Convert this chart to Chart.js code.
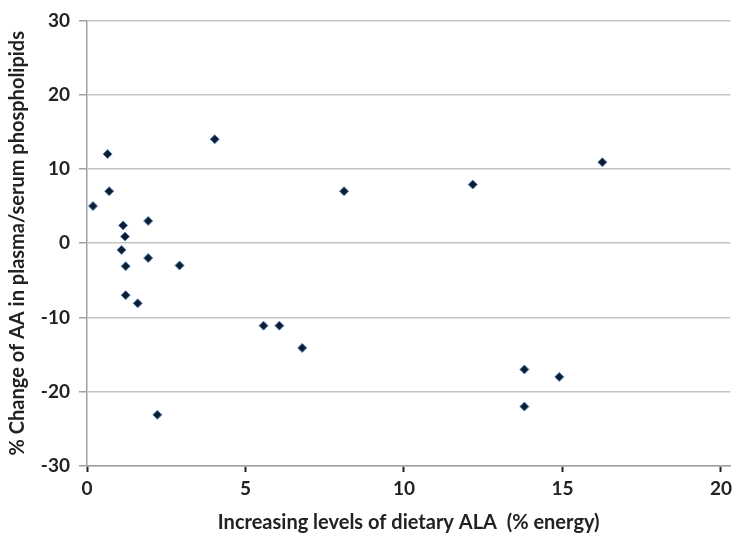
<!DOCTYPE html>
<html>
<head>
<meta charset="utf-8">
<script src="https://cdn.jsdelivr.net/npm/chart.js@4/dist/chart.umd.min.js"></script>
<style>
    html, body { margin: 0; padding: 0; background: #fff; }
    #chart { display: block; }
</style>
</head>
<body>
<canvas id="chart" width="737" height="535"></canvas>
<script>
// Données
const alaLevels = [0.19, 0.65, 0.70, 1.14, 1.20, 1.09, 1.22, 1.93, 1.93, 2.92, 1.22, 1.60, 4.03, 2.22,
    8.11, 12.17, 16.26, 5.57, 6.07, 6.79, 13.80, 14.90, 13.80];
const aaChange = [5, 12, 7, 2.4, 0.9, -0.9, -3.1, 3, -2, -3, -7, -8.1, 14, -23.1,
    7, 7.9, 10.9, -11.1, -11.1, -14.1, -17, -18, -22];
const xTicks = [0, 5, 10, 15, 20];
const yTicks = [-30, -20, -10, 0, 10, 20, 30];

const points = alaLevels.map((x, i) => ({ x: x, y: aaChange[i] }));

const tickFont = { family: 'Lato', size: 19, weight: 'bold' };
const titleFont = { family: 'Lato', size: 20, weight: 'bold' };

const ctx = document.getElementById('chart').getContext('2d');
const chart = new Chart(ctx, {
    type: 'scatter',
    data: {
        datasets: [{
            data: points,
            pointStyle: 'rectRot',
            pointRadius: 4.5,
            pointBackgroundColor: '#0f1d30',
            pointBorderColor: '#4f81bd',
            pointBorderWidth: 1
        }]
    },
    options: {
        responsive: false,
        animation: false,
        layout: { padding: { top: 18, right: 4, left: 0, bottom: 0 } },
        plugins: {
            legend: { display: false },
            tooltip: { enabled: false }
        },
        scales: {
            x: {
                type: 'linear',
                min: 0,
                max: 20.3,
                afterBuildTicks: axis => { axis.ticks = xTicks.map(v => ({ value: v })); },
                afterFit: axis => { axis.height = 69; },
                grid: {
                    drawOnChartArea: false,
                    tickLength: 6,
                    tickColor: '#222',
                    tickWidth: 2
                },
                border: { color: '#a0a0a0', width: 1.5 },
                ticks: { color: '#222', font: tickFont, padding: 5, maxRotation: 0 },
                title: {
                    display: true,
                    text: 'Increasing levels of dietary ALA  (% energy)',
                    color: '#222',
                    font: titleFont,
                    padding: { top: 4, bottom: 0 }
                }
            },
            y: {
                min: -30,
                max: 30,
                afterBuildTicks: axis => { axis.ticks = yTicks.map(v => ({ value: v })); },
                afterFit: axis => { axis.width = 87; },
                grid: {
                    color: '#c4c4c4',
                    lineWidth: 1.5,
                    tickLength: 8,
                    tickColor: '#a0a0a0'
                },
                border: { color: '#a0a0a0', width: 1.5 },
                ticks: { color: '#222', font: tickFont, padding: 9 },
                title: {
                    display: true,
                    text: '% Change of AA in plasma/serum phospholipids',
                    color: '#222',
                    font: titleFont,
                    padding: { top: 6, bottom: 0 }
                }
            }
        }
    }
});
</script>
</body>
</html>
